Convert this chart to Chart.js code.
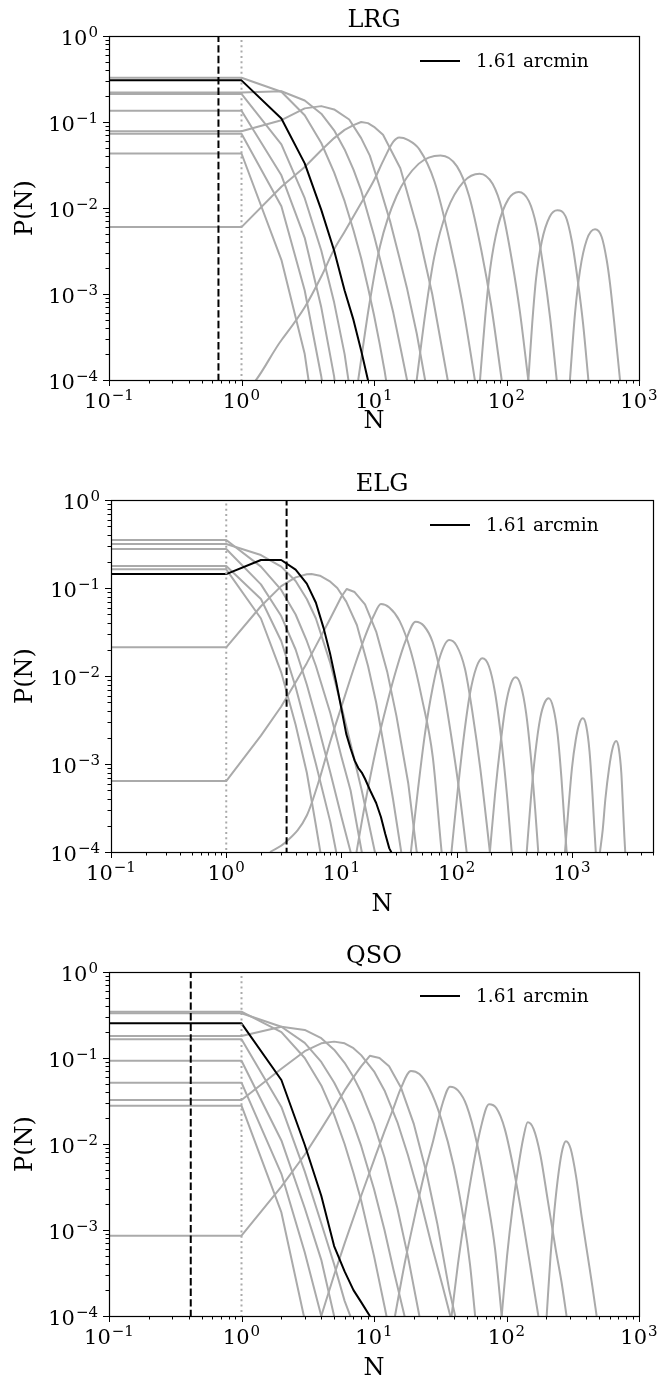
<!DOCTYPE html>
<html><head><meta charset="utf-8">
<script src="https://cdn.jsdelivr.net/npm/chart.js@4"></script>
<style>
html,body{margin:0;padding:0;background:#fff;}
#wrap{position:relative;width:658px;height:1380px;overflow:hidden;}
canvas{position:absolute;left:0;}
</style></head><body><div id="wrap">
<canvas id="c1" width="658" height="460" style="top:0px"></canvas>
<canvas id="c2" width="658" height="460" style="top:460px"></canvas>
<canvas id="c3" width="658" height="460" style="top:920px"></canvas>
</div>
<script>
// ---------- tick labels ----------
const logXTicks = [0.1, 1, 10, 100, 1000];
const logXTickExps = ['\u22121', '0', '1', '2', '3'];
const logYTicks = [1e-4, 1e-3, 1e-2, 1e-1, 1];
const logYTickExps = ['\u22124', '\u22123', '\u22122', '\u22121', '0'];
const legendLabel = '1.61 arcmin';
const panelTitles = ['LRG', 'ELG', 'QSO'];

// ---------- LRG : [N, P(N)] ----------
const lrgS1 = [[0.09,0.043],[1,0.043],[2,0.0025],[3,0.0002],[4,0.00001]];
const lrgS2 = [[0.09,0.073],[1,0.073],[2,0.0105],[3,0.0011],[4,0.00011],[5,0.00001]];
const lrgS3 = [[0.09,0.135],[1,0.135],[2,0.024],[3,0.0045],[4,0.0007],[5,0.00011],[6,0.00001]];
const lrgS4 = [[0.09,0.212],[1,0.212],[2,0.055],[3,0.013],[4,0.0032],[5,0.0008],[6,0.0002],[7,0.00004],[8,0.00001]];
const lrgBlack = [[0.09,0.305],[1,0.305],[2,0.11],[3,0.033],[4,0.0095],[5,0.0032],[6,0.0011],[7,0.0005],[8,0.00022],[9,0.0001],[10,0.00005]];
const lrgL1 = [[0.09,0.327],[1,0.327],[2,0.225],[3,0.12],[4,0.057],[5,0.026],[6,0.012],[7,0.0055],[8,0.0026],[9,0.0012],[10,0.00057],[11,0.00027],[12,0.00013],[13,0.00006]];
const lrgL2 = [[0.09,0.221],[1,0.221],[2,0.228],[3,0.178],[4,0.125],[5,0.08],[6,0.048],[7,0.028],[8,0.016],[10,0.0048],[12,0.0016],[14,0.0006],[16,0.00022],[18,0.00009],[20,0.00004]];
const lrgL3 = [[0.09,0.078],[1,0.078],[2,0.105],[3,0.144],[4,0.153],[5,0.14],[6.5,0.107],[8,0.065],[9.3,0.0406],[11,0.018],[13.3,0.0068],[15.5,0.0027],[17.8,0.00114],[21,0.00035],[24.3,0.0001],[28,0.00003]];
const lrgL4 = [[0.09,0.006],[1,0.006],[2,0.0177],[3,0.030],[4,0.047],[5,0.065],[6,0.081],[7,0.092],[8,0.1],[9,0.097],[10,0.088],[11.7,0.071],[15.8,0.029],[21.6,0.0053],[27.5,0.001],[36,0.0001],[42,0.00002]];
const lrgL5 = [[0.09,0.000075],[1,0.000075],[2,0.00029],[3,0.0007],[4,0.0016],[5,0.0033],[6,0.0053],[8,0.0114],[10,0.021],[12,0.038],[14,0.059],[15.5,0.066],[18,0.062],[22,0.048],[28.6,0.0203],[37.2,0.00417],[45.9,0.00086],[57.7,0.0001],[65,0.00003]];
const lrgL6 = [[7.6,0.0001],[9.2,0.00074],[11.1,0.0036],[14.8,0.0138],[21.7,0.0326],[31.8,0.0409],[42.3,0.0305],[52.2,0.0138],[64.6,0.0032],[76.6,0.00074],[92,0.0001]];
const lrgL7 = [[21,0.0001],[24.5,0.000625],[28.5,0.0027],[35.5,0.00923],[47.5,0.0203],[62.7,0.0251],[78.5,0.0191],[93.1,0.00923],[110.2,0.00239],[126.2,0.000625],[146,0.0001]];
const lrgL8 = [[63.1,0.0001],[69,0.000532],[75.5,0.00202],[86.3,0.00617],[103.3,0.01268],[123.6,0.01535],[147.6,0.012],[168.3,0.00617],[191.9,0.00181],[213.3,0.000532],[239.3,0.0001]];
const lrgL9 = [[146.2,0.0001],[156.3,0.000452],[167.1,0.00151],[184.9,0.00413],[211.8,0.00791],[242.1,0.0094],[279.3,0.008],[311.2,0.00413],[346.7,0.00136],[378.4,0.000452],[415,0.0001]];
const lrgL10 = [[301,0.0001],[329,0.000596],[359,0.0019],[403,0.00425],[466,0.00565],[523,0.0046],[570,0.0025],[604,0.00133],[659,0.00038],[719,0.0001]];
const lrgMeanN = 0.67;

// ---------- ELG ----------
const elgS1 = [[0.09,0.163],[1,0.163],[2,0.045],[3,0.011],[4,0.0028],[5,0.0008],[6,0.0002],[7,0.00006]];
const elgS2 = [[0.09,0.178],[1,0.178],[2,0.075],[3,0.025],[4,0.0075],[5,0.0025],[6,0.001],[8,0.00022],[9,0.0001],[10,0.00005]];
const elgS3 = [[0.09,0.277],[1,0.277],[2,0.11],[3,0.048],[4,0.02],[5,0.008],[6,0.0034],[8,0.0008],[10,0.00025],[12,0.0001],[14,0.00004]];
const elgS4 = [[0.09,0.351],[1,0.351],[2,0.175],[3,0.095],[4,0.05],[5,0.025],[6,0.013],[8,0.0038],[10,0.0012],[12,0.0005],[15,0.0001],[17,0.00004]];
const elgS5 = [[0.09,0.316],[1,0.316],[2,0.237],[3,0.175],[4,0.12],[5,0.075],[6,0.045],[8,0.014],[10,0.0045],[12,0.0017],[15,0.0005],[19.5,0.0001],[23,0.00004]];
const elgBlack = [[0.09,0.144],[1,0.144],[2,0.208],[3,0.208],[4,0.162],[5,0.112],[6,0.068],[7,0.035],[8,0.0175],[9,0.0085],[10,0.0042],[11,0.0022],[12,0.0015],[13,0.0011],[14,0.0009],[15,0.0008],[16,0.00068],[18,0.00048],[20,0.00036],[22,0.00025],[24,0.00016],[26,0.00011],[27,0.0001],[29,0.00006]];
const elgL1 = [[0.09,0.0212],[1,0.0212],[2,0.062],[3,0.105],[4,0.132],[5,0.143],[5.5,0.144],[6.5,0.138],[8,0.118],[9.2,0.1],[11,0.07],[13.6,0.038],[17,0.013],[20,0.005],[24,0.0013],[28,0.0004],[33,0.0001],[36,0.00005]];
const elgL2 = [[0.09,0.00064],[1,0.00064],[2,0.0021],[3,0.0045],[4,0.0085],[5,0.014],[6,0.022],[8,0.045],[10,0.08],[11.1,0.0974],[13,0.09],[16,0.065],[20,0.032],[25,0.011],[30,0.0035],[38,0.0006],[45,0.0001],[50,0.00004]];
const elgL3 = [[2.4,0.0001],[3.3,0.00013],[5,0.00026],[6.5,0.0007],[8,0.0018],[10,0.0045],[13,0.013],[16,0.028],[19,0.048],[22,0.0658],[26,0.06],[32,0.042],[40,0.019],[50,0.0055],[62,0.0012],[74,0.0001],[80,0.00004]];
const elgL4 = [[13.5,0.0001],[16,0.00035],[20,0.0015],[25,0.005],[30,0.012],[36,0.025],[44,0.0414],[52,0.037],[62,0.024],[75,0.0085],[90,0.002],[105,0.0005],[122,0.0001]];
const elgL5 = [[40,0.0001],[46,0.0005],[53,0.0022],[62,0.0075],[72,0.017],[86,0.0256],[100,0.022],[118,0.012],[138,0.0036],[160,0.0009],[194,0.0001]];
const elgL6 = [[90,0.0001],[102,0.0005],[115,0.002],[130,0.0062],[148,0.0125],[167,0.0159],[190,0.013],[215,0.0065],[245,0.0018],[275,0.0004],[300,0.0001]];
const elgL7 = [[194,0.0001],[215,0.00045],[240,0.0017],[265,0.0045],[295,0.0082],[324,0.00966],[360,0.0078],[400,0.0038],[440,0.0012],[480,0.0003],[510,0.0001]];
const elgL8 = [[405,0.0001],[440,0.0004],[480,0.0013],[530,0.0033],[580,0.005],[628,0.00557],[690,0.0043],[750,0.0022],[810,0.0007],[860,0.00022],[900,0.0001]];
const elgL9 = [[870,0.0001],[930,0.0003],[1000,0.0009],[1080,0.0019],[1160,0.0029],[1245,0.0033],[1330,0.0027],[1420,0.0014],[1500,0.0005],[1560,0.0002],[1610,0.0001]];
const elgL10 = [[1750,0.0001],[1850,0.00018],[1950,0.0004],[2100,0.0009],[2250,0.0015],[2420,0.00182],[2550,0.0015],[2680,0.0008],[2780,0.0003],[2850,0.00015],[2900,0.0001]];
const elgMeanN = 3.34;

// ---------- QSO ----------
const qsoS1 = [[0.09,0.0279],[1,0.0279],[2,0.0016],[3,0.00009],[4,0.000005]];
const qsoS2 = [[0.09,0.0517],[1,0.0517],[2,0.0045],[3,0.00055],[4,0.0001],[5,0.00002]];
const qsoS3 = [[0.09,0.093],[1,0.093],[2,0.011],[3,0.0018],[4,0.00045],[5,0.0001],[6,0.00003]];
const qsoS4 = [[0.09,0.165],[1,0.165],[2,0.027],[3,0.0048],[4,0.0012],[5,0.0004],[6,0.00015],[7,0.00008],[8,0.00004]];
const qsoBlack = [[0.09,0.253],[1,0.253],[2,0.0555],[3,0.0098],[4,0.0025],[5,0.00065],[6,0.00033],[7,0.0002],[8,0.000145],[9.3,0.0001],[11,0.00006]];
const qsoL1 = [[0.09,0.346],[1,0.346],[2,0.2],[3,0.1],[4,0.048],[5,0.022],[6,0.01],[7,0.0046],[8,0.0022],[10,0.0005],[12,0.00013],[14,0.00004]];
const qsoL2 = [[0.09,0.331],[1,0.331],[2,0.231],[3,0.15],[4,0.09],[5,0.052],[6,0.03],[7,0.017],[8,0.0095],[10,0.003],[12,0.001],[14,0.00035],[17,0.0001],[20,0.00003]];
const qsoL3 = [[0.09,0.18],[1,0.18],[2,0.231],[3,0.212],[4,0.17],[5,0.125],[6,0.088],[7,0.06],[8,0.04],[10,0.017],[12,0.007],[15,0.0018],[18,0.0005],[22,0.0001],[26,0.00002]];
const qsoL4 = [[0.09,0.0325],[1,0.0325],[2,0.075],[3,0.12],[4,0.148],[5,0.155],[6,0.148],[7,0.13],[8,0.108],[10,0.07],[12,0.042],[15,0.018],[18,0.0075],[22,0.0025],[27,0.0007],[33,0.00022],[40,0.00007]];
const qsoL5 = [[0.09,0.00086],[1,0.00086],[2,0.0032],[3,0.0075],[4,0.015],[5,0.026],[6,0.042],[7,0.06],[8,0.08],[9.3,0.106],[11,0.1],[13,0.08],[16,0.045],[20,0.017],[25,0.0045],[30,0.0012],[37,0.0002],[41,0.0001],[45,0.00005]];
const qsoL6 = [[4,0.0001],[5,0.0003],[6,0.0007],[8,0.0025],[10,0.0065],[12,0.014],[14,0.026],[16,0.045],[19,0.0706],[22,0.065],[26,0.045],[32,0.02],[40,0.0055],[48,0.0012],[53,0.0004],[58,0.0001]];
const qsoL7 = [[14.4,0.0001],[17,0.0004],[20,0.0013],[24,0.0045],[28,0.011],[33,0.03],[37.5,0.0464],[43,0.042],[50,0.028],[60,0.01],[72,0.0022],[82,0.0006],[92,0.0001]];
const qsoL8 = [[38.5,0.0001],[43,0.0004],[49,0.0016],[56,0.0055],[64,0.0155],[73.8,0.0289],[84,0.026],[97,0.015],[115,0.0045],[135,0.0011],[155,0.0003],[174,0.0001]];
const qsoL9 = [[92,0.0001],[101,0.0005],[111,0.0018],[123,0.0055],[134,0.0118],[144.5,0.0179],[160,0.015],[180,0.0075],[205,0.0022],[235,0.0006],[260,0.00025],[284,0.0001]];
const qsoL10 = [[201,0.0001],[215,0.0005],[230,0.0017],[248,0.0048],[265,0.0088],[281,0.0108],[305,0.0088],[335,0.0042],[370,0.0014],[410,0.0005],[445,0.00022],[479,0.0001]];
const qsoMeanN = 0.414;

// ---------- panels (groups built from the arrays above) ----------
const panels = [
  { id:'c1', title: panelTitles[0], xMax:1000, xTicks: logXTicks, xExps: logXTickExps,
    linear:[lrgS1,lrgS2,lrgS3,lrgS4,lrgL1,lrgL2,lrgL3,lrgL4],
    smooth:[lrgL5,lrgL6,lrgL7,lrgL8,lrgL9,lrgL10], black: lrgBlack, mean: lrgMeanN,
    pad:{left:109,right:19,top:36,bottom:80}, nOff:48, legend:{x1:420,x2:460,y:61,tx:476} },
  { id:'c2', title: panelTitles[1], xMax:5050, xTicks: logXTicks, xExps: logXTickExps,
    linear:[elgS1,elgS2,elgS3,elgS4,elgS5,elgL1,elgL2],
    smooth:[elgL3,elgL4,elgL5,elgL6,elgL7,elgL8,elgL9,elgL10], black: elgBlack, mean: elgMeanN,
    pad:{left:111,right:5,top:40,bottom:68}, nOff:59, legend:{x1:430,x2:470,y:65,tx:486} },
  { id:'c3', title: panelTitles[2], xMax:1000, xTicks: logXTicks, xExps: logXTickExps,
    linear:[qsoS1,qsoS2,qsoS3,qsoS4,qsoL1,qsoL2,qsoL3,qsoL4,qsoL5],
    smooth:[qsoL6,qsoL7,qsoL8,qsoL9,qsoL10], black: qsoBlack, mean: qsoMeanN,
    pad:{left:109,right:19,top:52,bottom:64}, nOff:59, legend:{x1:420,x2:460,y:76,tx:476} }
];

const GRAY = '#aaaaaa';
const SERIF = '"DejaVu Serif", "Liberation Serif", serif';

function pts(arr){ return arr.map(p => ({x:p[0], y:p[1]})); }

function sciLabel(ctx, exp, x, y, align){
  ctx.font = '21px ' + SERIF;
  const w1 = ctx.measureText('10').width;
  ctx.font = '15px ' + SERIF;
  const w2 = ctx.measureText(exp).width;
  const w = w1 + w2 + 1;
  let left = align === 'center' ? x - w/2 : x - w;
  ctx.textAlign = 'left'; ctx.textBaseline = 'alphabetic';
  ctx.font = '21px ' + SERIF;
  ctx.fillText('10', left, y);
  ctx.font = '15px ' + SERIF;
  ctx.fillText(exp, left + w1 + 1, y - 8);
}

const decor = {
  id: 'decor',
  afterDraw(chart, args, o) {
    const ctx = chart.ctx, a = chart.chartArea, xs = chart.scales.x, ys = chart.scales.y;
    const P = o.panel;
    ctx.save();
    ctx.fillStyle = '#000'; ctx.strokeStyle = '#000';
    ctx.lineWidth = 1;
    ctx.beginPath();
    P.xTicks.forEach(t => {
      for (let k = 1; k < 10; k++) {
        const v = t * k;
        if (v < xs.min * 0.999 || v > xs.max * 1.001) continue;
        const px = Math.round(xs.getPixelForValue(v)) + 0.5;
        const len = k === 1 ? 6 : 3.5;
        ctx.moveTo(px, a.bottom); ctx.lineTo(px, a.bottom + len);
      }
    });
    logYTicks.forEach(t => {
      for (let k = 1; k < 10; k++) {
        const v = t * k;
        if (v > ys.max * 1.001) continue;
        const py = Math.round(ys.getPixelForValue(v)) + 0.5;
        const len = k === 1 ? 6 : 3.5;
        ctx.moveTo(a.left, py); ctx.lineTo(a.left - len, py);
      }
    });
    ctx.stroke();
    ctx.lineWidth = 1.2;
    ctx.strokeRect(Math.round(a.left)+0.5, Math.round(a.top)+0.5, Math.round(a.right-a.left), Math.round(a.bottom-a.top));
    P.xTicks.forEach((t, i) => {
      const px = xs.getPixelForValue(t);
      sciLabel(ctx, P.xExps[i], px, a.bottom + 28, 'center');
    });
    logYTicks.forEach((t, i) => {
      const py = ys.getPixelForValue(t);
      sciLabel(ctx, logYTickExps[i], a.left - 11, py + 8.5, 'right');
    });
    ctx.font = '24px ' + SERIF; ctx.textAlign = 'center'; ctx.textBaseline = 'alphabetic';
    ctx.fillText(P.title, (a.left + a.right)/2, a.top - 9);
    ctx.fillText('N', (a.left + a.right)/2, a.bottom + P.nOff);
    ctx.save();
    ctx.translate(26, (a.top + a.bottom)/2);
    ctx.rotate(-Math.PI/2);
    ctx.textBaseline = 'middle';
    ctx.fillText('P(N)', 0, 0);
    ctx.restore();
    ctx.lineWidth = 2;
    ctx.beginPath(); ctx.moveTo(P.legend.x1, P.legend.y); ctx.lineTo(P.legend.x2, P.legend.y); ctx.stroke();
    ctx.font = '18.5px ' + SERIF; ctx.textAlign = 'left'; ctx.textBaseline = 'middle';
    ctx.fillText(legendLabel, P.legend.tx, P.legend.y + 1);
    ctx.restore();
  }
};

panels.forEach(P => {
  const ds = [];
  ds.push({ data:[{x:P.mean,y:1e-5},{x:P.mean,y:2}], borderColor:'#000', borderWidth:2, borderDash:[7.4,3.2], order:0 });
  ds.push({ data:[{x:1,y:1e-5},{x:1,y:2}], borderColor:GRAY, borderWidth:2, borderDash:[2,3.3], order:1 });
  ds.push({ data: pts(P.black), borderColor:'#000', borderWidth:2, order:2 });
  P.linear.forEach(c => ds.push({ data: pts(c), borderColor:GRAY, borderWidth:2, order:3 }));
  P.smooth.forEach(c => ds.push({ data: pts(c), borderColor:GRAY, borderWidth:2, order:3, cubicInterpolationMode:'monotone' }));
  ds.forEach(d => { d.pointRadius = 0; d.fill = false; d.clip = 0; d.tension = 0; d.borderJoinStyle = 'round'; if (d.cubicInterpolationMode) d.tension = 0.4; });
  new Chart(document.getElementById(P.id), {
    type: 'line',
    data: { datasets: ds },
    options: {
      responsive:false, maintainAspectRatio:false, animation:false, devicePixelRatio:1,
      parsing:false, normalized:true,
      layout:{ padding: P.pad },
      plugins:{ legend:{display:false}, tooltip:{enabled:false}, decor:{panel:P} },
      scales:{
        x:{ type:'logarithmic', min:0.1, max:P.xMax, bounds:'data', display:false },
        y:{ type:'logarithmic', min:1e-4, max:1, bounds:'data', display:false }
      }
    },
    plugins:[decor]
  });
});
</script>
</body></html>
